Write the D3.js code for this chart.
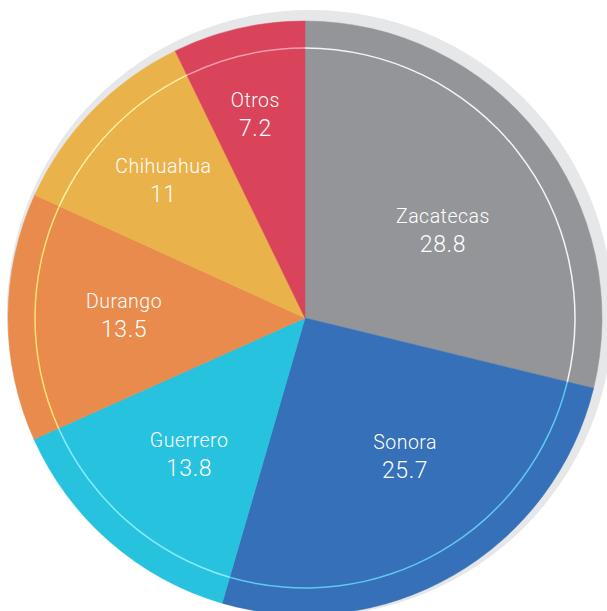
<!DOCTYPE html>
<html lang="es">
<head>
<meta charset="utf-8">
<title>Producción por estado</title>
<script src="https://cdn.jsdelivr.net/npm/d3@7"></script>
<style>
  html, body { margin: 0; padding: 0; background: #fff; }
  svg { display: block; }
</style>
</head>
<body>
<script>
  // data, clockwise from 12 o'clock
  var states = ["Zacatecas", "Sonora", "Guerrero", "Durango", "Chihuahua", "Otros"];
  var shares = [28.8, 25.7, 13.8, 13.5, 11, 7.2];
  var fills = ["#939598", "#3570b8", "#27c2de", "#e98b4c", "#eab24a", "#d9445b"];
  var rings = ["#f4f4f4", "#5fc9f2", "#86eafa", "#fbe27a", "#fff0a6", "#f69ab0"];

  // label placement: [angle nudge in degrees, radius]
  var labelPos = [[7.7, 160], [-4.6, 176], [-2, 184], [-1.5, 181], [-1.5, 193], [-1.2, 203]];

  var width = 607, height = 611;
  var cx = 305, cy = 318, radius = 297, ringR = 270;

  var svg = d3.select("body").append("svg")
      .attr("width", width)
      .attr("height", height);

  // light grey backdrop disc, shifted up and right
  svg.append("circle")
      .attr("cx", cx + 5)
      .attr("cy", cy - 5)
      .attr("r", radius + 6)
      .attr("fill", "#e6e7e8");

  var rows = states.map(function(s, i) {
    return { name: s, value: shares[i], fill: fills[i], ring: rings[i], lp: labelPos[i] };
  });

  var pie = d3.pie()
      .sort(null)
      .value(function(d) { return d.value; });

  var arcs = pie(rows);

  var g = svg.append("g")
      .attr("transform", "translate(" + cx + "," + cy + ")");

  var slice = d3.arc().innerRadius(0).outerRadius(radius);
  // thin band that draws the tinted inner circle
  var ring = d3.arc().innerRadius(ringR - 0.75).outerRadius(ringR + 0.75);

  g.selectAll("path.slice")
      .data(arcs)
      .enter().append("path")
      .attr("class", "slice")
      .attr("d", slice)
      .attr("fill", function(d) { return d.data.fill; })
      .attr("stroke", function(d) { return d.data.fill; })
      .attr("stroke-width", 0.5);

  g.selectAll("path.ring")
      .data(arcs)
      .enter().append("path")
      .attr("class", "ring")
      .attr("d", ring)
      .attr("fill", function(d) { return d.data.ring; });

  var labels = g.selectAll("g.label")
      .data(arcs)
      .enter().append("g")
      .attr("class", "label")
      .attr("transform", function(d) {
        var a = (d.startAngle + d.endAngle) / 2 + d.data.lp[0] * Math.PI / 180;
        var r = d.data.lp[1];
        return "translate(" + (Math.sin(a) * r) + "," + (-Math.cos(a) * r) + ")";
      })
      .attr("font-family", "Roboto, sans-serif")
      .attr("font-weight", 300)
      .attr("fill", "#ffffff")
      .attr("text-anchor", "middle");

  labels.append("text")
      .attr("y", -14)
      .attr("font-size", 19.5)
      .attr("letter-spacing", 0.5)
      .text(function(d) { return d.data.name; });

  labels.append("text")
      .attr("y", 15)
      .attr("font-size", 23)
      .attr("letter-spacing", 0.6)
      .text(function(d) { return d.data.value; });
</script>
</body>
</html>
